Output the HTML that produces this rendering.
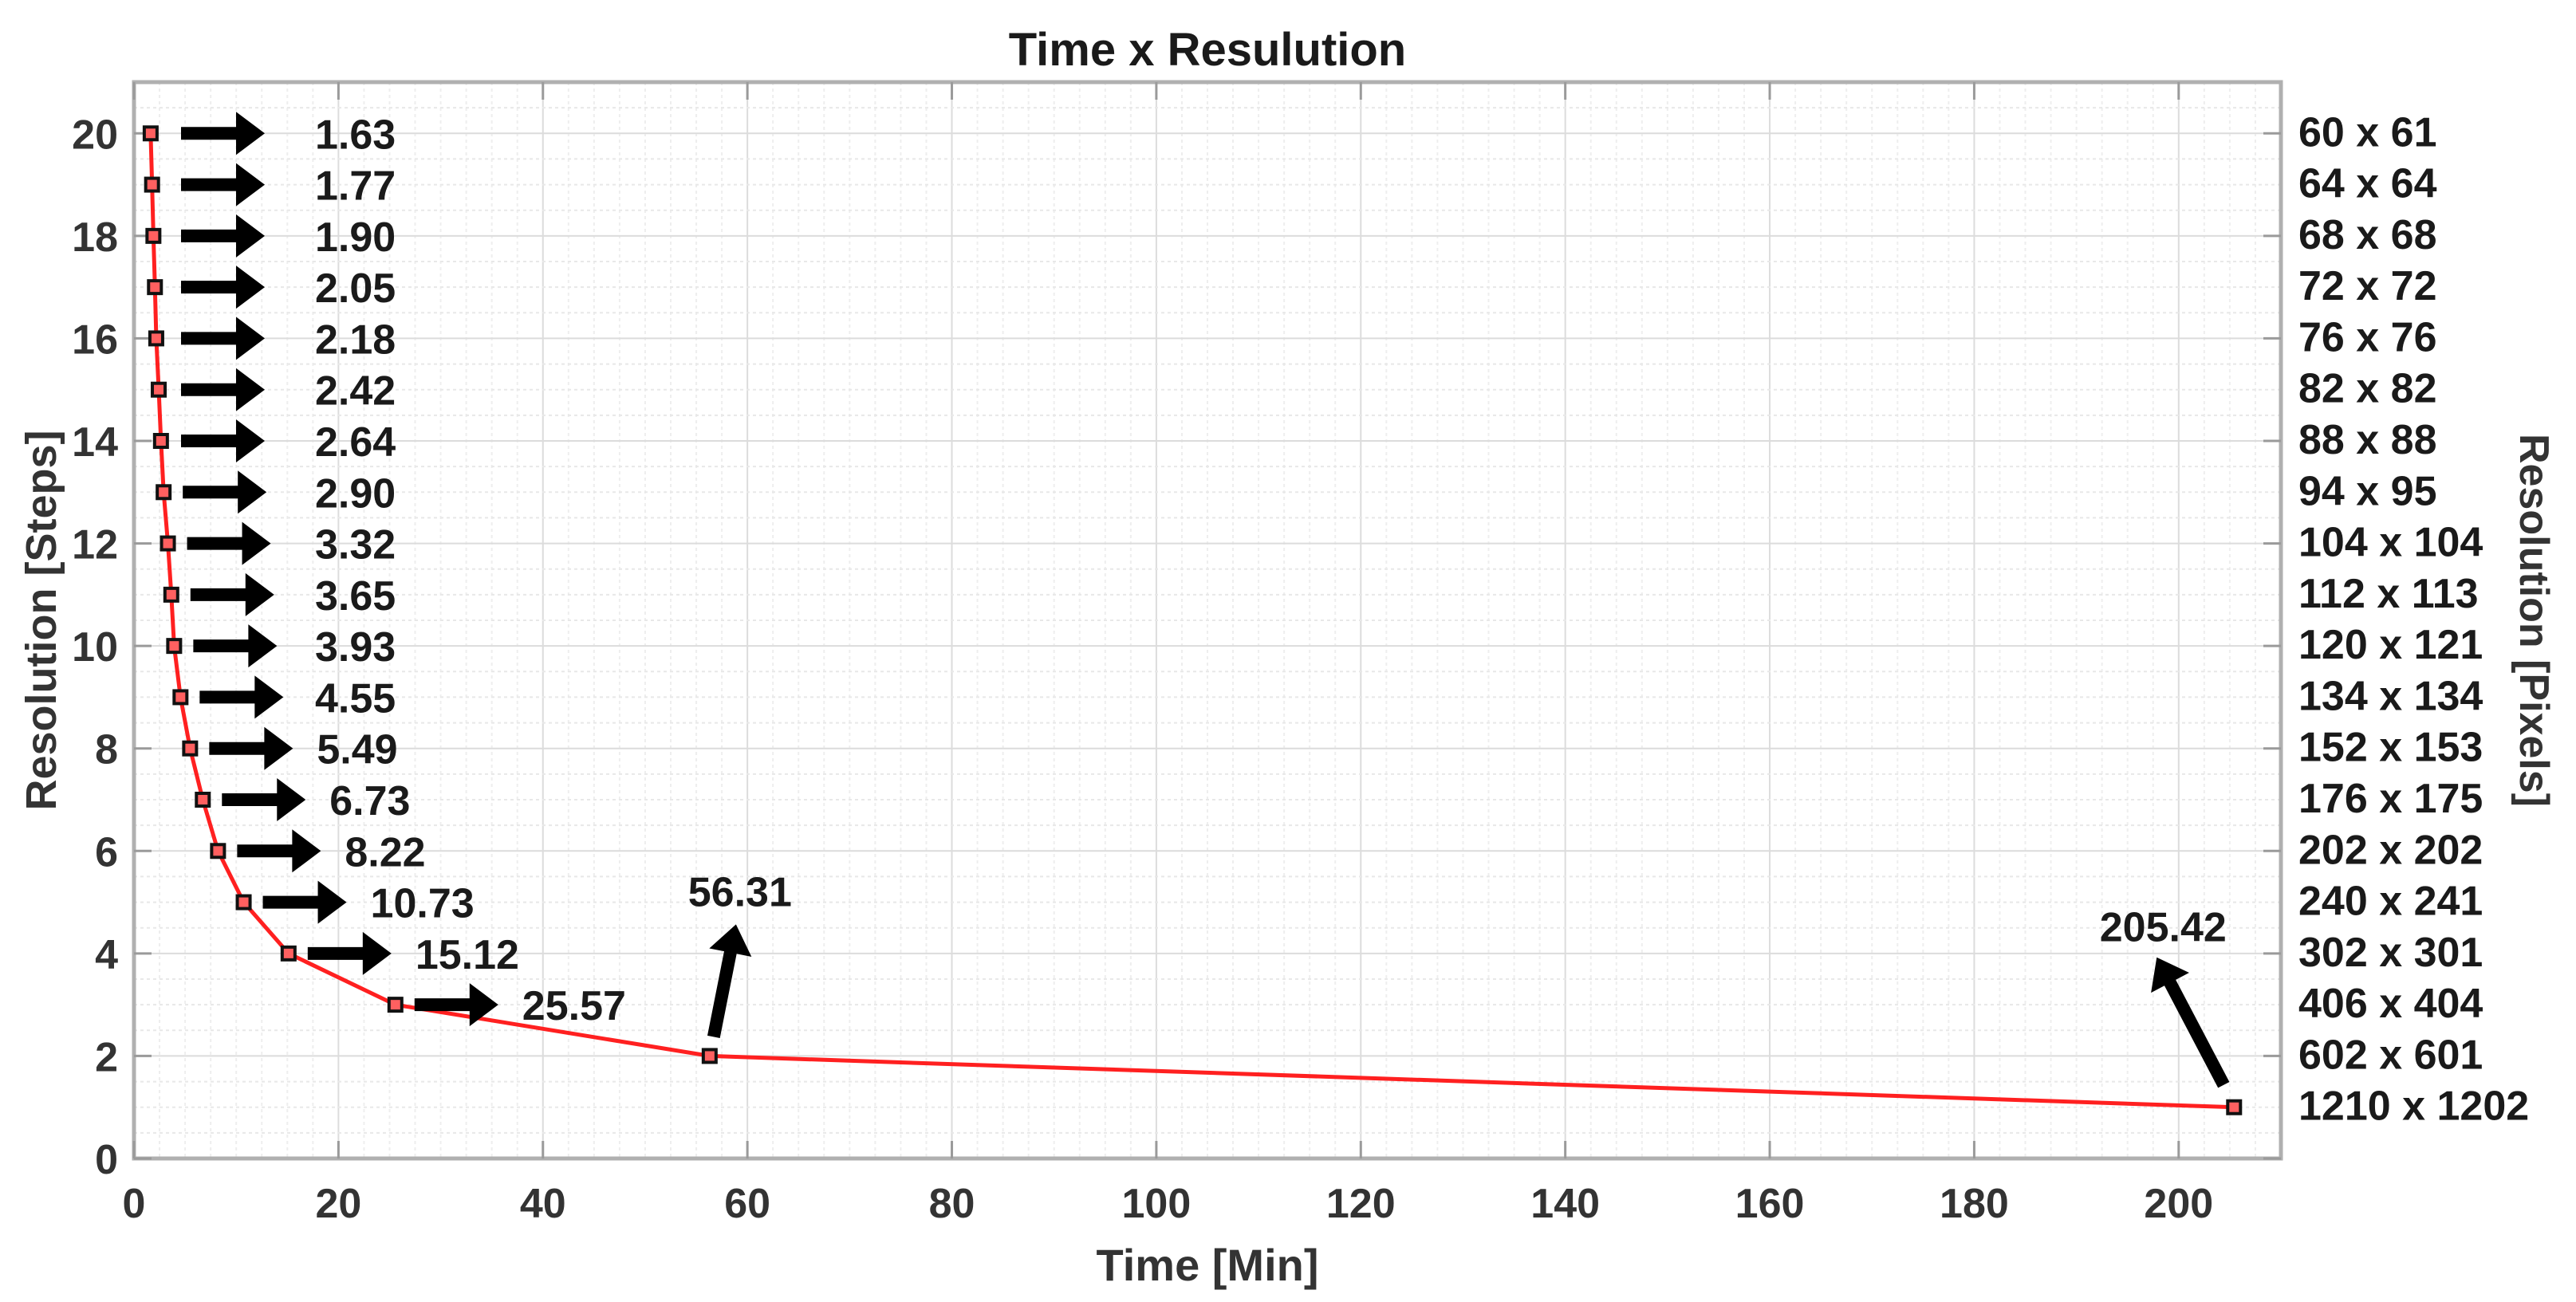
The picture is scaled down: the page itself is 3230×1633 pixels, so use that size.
<!DOCTYPE html>
<html><head><meta charset="utf-8"><style>
html,body{margin:0;padding:0;background:#fff;}
svg{display:block;font-family:"Liberation Sans",Arial,sans-serif;font-weight:bold;}
</style></head><body>
<svg id="chart" width="3230" height="1633" viewBox="0 0 3230 1633" xmlns="http://www.w3.org/2000/svg">
<g id="grid"></g>
<g id="axes"></g>
<g id="series"></g>
<g id="annot"></g>
<text x="1514" y="82" text-anchor="middle" font-size="58" fill="#1a1a1a">Time x Resulution</text>
<text x="1514" y="1606" text-anchor="middle" font-size="56" fill="#333">Time [Min]</text>
<text transform="translate(70,778) rotate(-90)" text-anchor="middle" font-size="54" fill="#333">Resolution [Steps]</text>
<text transform="translate(3160,778) rotate(90)" text-anchor="middle" font-size="52" fill="#333">Resolution [Pixels]</text>
</svg>
<script>
const steps = [20,19,18,17,16,15,14,13,12,11,10,9,8,7,6,5,4,3,2,1];
const times = [1.63,1.77,1.90,2.05,2.18,2.42,2.64,2.90,3.32,3.65,3.93,4.55,5.49,6.73,8.22,10.73,15.12,25.57,56.31,205.42];
const timeLabels = ["1.63","1.77","1.90","2.05","2.18","2.42","2.64","2.90","3.32","3.65","3.93","4.55","5.49","6.73","8.22","10.73","15.12","25.57","56.31","205.42"];
const pixelLabels = ["60 x 61","64 x 64","68 x 68","72 x 72","76 x 76","82 x 82","88 x 88","94 x 95","104 x 104","112 x 113","120 x 121","134 x 134","152 x 153","176 x 175","202 x 202","240 x 241","302 x 301","406 x 404","602 x 601","1210 x 1202"];
const xTicks = [0,20,40,60,80,100,120,140,160,180,200];
const yTicks = [0,2,4,6,8,10,12,14,16,18,20];

const NS="http://www.w3.org/2000/svg";
const L=168,R=2860,T=103,B=1453,XMAX=210,YMAX=21;
const X=v=>L+(R-L)*v/XMAX;
const Y=v=>B-(B-T)*v/YMAX;
function mk(tag,attrs,parent){const e=document.createElementNS(NS,tag);for(const k in attrs)e.setAttribute(k,attrs[k]);parent.appendChild(e);return e;}
const grid=document.getElementById('grid'),axes=document.getElementById('axes'),series=document.getElementById('series'),annot=document.getElementById('annot');

for(let v=2.5;v<XMAX;v+=2.5){const g=mk('line',{x1:X(v),x2:X(v),y1:T,y2:B,stroke:(v%20===0)?'#dcdcdc':'#eeeeee','stroke-width':2,'stroke-dasharray':(v%20===0)?'none':'4 4'},grid);

}
for(let v=0.5;v<YMAX;v+=0.5){const g=mk('line',{x1:L,x2:R,y1:Y(v),y2:Y(v),stroke:(v%2===0)?'#dcdcdc':'#e8e8e8','stroke-width':2,'stroke-dasharray':(v%2===0)?'none':'4 4'},grid);

}

const box=mk('rect',{x:L,y:T,width:R-L,height:B-T,fill:'none',stroke:'#b0b0b0','stroke-width':5},axes);


xTicks.forEach(v=>{
  mk('line',{x1:X(v),x2:X(v),y1:B,y2:B-22,stroke:'#9a9a9a','stroke-width':3},axes);
  mk('line',{x1:X(v),x2:X(v),y1:T,y2:T+22,stroke:'#9a9a9a','stroke-width':3},axes);
  const t=mk('text',{x:X(v),y:B+74,'text-anchor':'middle','font-size':52,fill:'#333'},axes);
  t.textContent=v;
  
  
});
yTicks.forEach(v=>{
  mk('line',{x1:L,x2:L+22,y1:Y(v),y2:Y(v),stroke:'#9a9a9a','stroke-width':3},axes);
  mk('line',{x1:R,x2:R-22,y1:Y(v),y2:Y(v),stroke:'#9a9a9a','stroke-width':3},axes);
  const t=mk('text',{x:148,y:Y(v)+19,'text-anchor':'end','font-size':52,fill:'#333'},axes);
  t.textContent=v;
  
  
});

const pts=times.map((t,i)=>X(t)+','+Y(steps[i])).join(' ');
const pl=mk('polyline',{points:pts,fill:'none',stroke:'#ff2020','stroke-width':5,'stroke-linejoin':'round'},series);


times.forEach((t,i)=>{
  const m=mk('rect',{x:X(t)-8,y:Y(steps[i])-8,width:16,height:16,fill:'#ff6060',stroke:'#111','stroke-width':4},series);
  
  
});

pixelLabels.forEach((s,i)=>{
  const t=mk('text',{x:2882,y:Y(steps[i])+16,'font-size':52,fill:'#1a1a1a'},annot);
  t.textContent=s;
  
  
});

function arrow(x1,y1,x2,y2){
  const dx=x2-x1,dy=y2-y1,len=Math.hypot(dx,dy),ux=dx/len,uy=dy/len,nx=-uy,ny=ux;
  const hl=36,hw=27,sw=8;
  const bx=x2-ux*hl,by=y2-uy*hl;
  const p=[[x1+nx*sw,y1+ny*sw],[bx+nx*sw,by+ny*sw],[bx+nx*hw,by+ny*hw],[x2,y2],[bx-nx*hw,by-ny*hw],[bx-nx*sw,by-ny*sw],[x1-nx*sw,y1-ny*sw]];
  return mk('polygon',{points:p.map(q=>q.join(',')).join(' '),fill:'#000'},annot);
}
times.forEach((t,i)=>{
  const y=Y(steps[i]);
  if(i<18){
    const ax=Math.max(227,X(t)+24);
    const a=arrow(ax,y,ax+105,y);
    
    
    const tx=mk('text',{x:Math.max(395,ax+135),y:y+19,'font-size':52,fill:'#1a1a1a'},annot);
    tx.textContent=timeLabels[i];
    
    
  }else if(i===18){
    const a=arrow(X(t)+5,y-24,X(t)+33,y-165);
    
    
    const tx=mk('text',{x:X(t)+38,y:y-188,'font-size':52,'text-anchor':'middle',fill:'#1a1a1a'},annot);
    tx.textContent=timeLabels[i];
    
    
  }else{
    const a=arrow(X(t)-13,y-28,X(t)-97,y-188);
    
    
    const tx=mk('text',{x:X(t)-89,y:y-208,'font-size':52,'text-anchor':'middle',fill:'#1a1a1a'},annot);
    tx.textContent=timeLabels[i];
    
    
  }
});
</script>
</body></html>
